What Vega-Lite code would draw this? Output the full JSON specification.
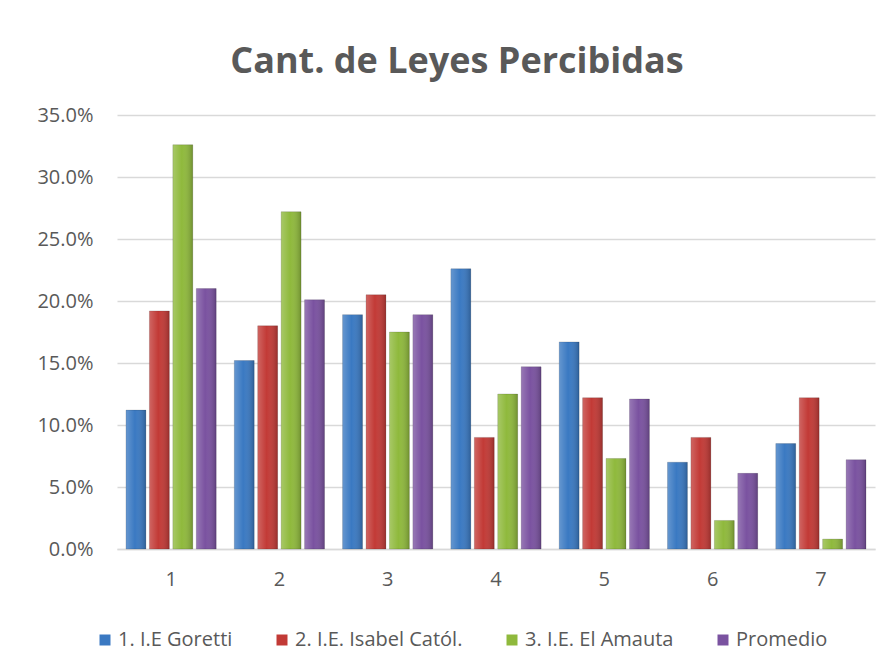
{
  "$schema": "https://vega.github.io/schema/vega-lite/v6.json",
  "width": 758,
  "height": 434,
  "autosize": {"type": "none"},
  "padding": {"left": 117, "top": 115, "right": 15, "bottom": 117},
  "background": "white",
  "title": {
    "text": "Cant. de Leyes Percibidas",
    "font": "Open Sans",
    "fontSize": 36,
    "fontWeight": "bold",
    "color": "#595959",
    "anchor": "middle",
    "dx": -39,
    "offset": 24
  },
  "config": {
    "view": {"stroke": null},
    "font": "Open Sans"
  },
  "data": {
    "values": [
      {"grupo": "1", "serie": "1. I.E Goretti", "valor": 0.112},
      {"grupo": "1", "serie": "2. I.E. Isabel Catól.", "valor": 0.192},
      {"grupo": "1", "serie": "3. I.E. El Amauta", "valor": 0.326},
      {"grupo": "1", "serie": "Promedio", "valor": 0.210},
      {"grupo": "2", "serie": "1. I.E Goretti", "valor": 0.152},
      {"grupo": "2", "serie": "2. I.E. Isabel Catól.", "valor": 0.180},
      {"grupo": "2", "serie": "3. I.E. El Amauta", "valor": 0.272},
      {"grupo": "2", "serie": "Promedio", "valor": 0.201},
      {"grupo": "3", "serie": "1. I.E Goretti", "valor": 0.189},
      {"grupo": "3", "serie": "2. I.E. Isabel Catól.", "valor": 0.205},
      {"grupo": "3", "serie": "3. I.E. El Amauta", "valor": 0.175},
      {"grupo": "3", "serie": "Promedio", "valor": 0.189},
      {"grupo": "4", "serie": "1. I.E Goretti", "valor": 0.226},
      {"grupo": "4", "serie": "2. I.E. Isabel Catól.", "valor": 0.090},
      {"grupo": "4", "serie": "3. I.E. El Amauta", "valor": 0.125},
      {"grupo": "4", "serie": "Promedio", "valor": 0.147},
      {"grupo": "5", "serie": "1. I.E Goretti", "valor": 0.167},
      {"grupo": "5", "serie": "2. I.E. Isabel Catól.", "valor": 0.122},
      {"grupo": "5", "serie": "3. I.E. El Amauta", "valor": 0.073},
      {"grupo": "5", "serie": "Promedio", "valor": 0.121},
      {"grupo": "6", "serie": "1. I.E Goretti", "valor": 0.070},
      {"grupo": "6", "serie": "2. I.E. Isabel Catól.", "valor": 0.090},
      {"grupo": "6", "serie": "3. I.E. El Amauta", "valor": 0.023},
      {"grupo": "6", "serie": "Promedio", "valor": 0.061},
      {"grupo": "7", "serie": "1. I.E Goretti", "valor": 0.085},
      {"grupo": "7", "serie": "2. I.E. Isabel Catól.", "valor": 0.122},
      {"grupo": "7", "serie": "3. I.E. El Amauta", "valor": 0.008},
      {"grupo": "7", "serie": "Promedio", "valor": 0.072}
    ]
  },
  "encoding": {
    "x": {
      "field": "grupo",
      "type": "ordinal",
      "scale": {"paddingInner": 0.167, "paddingOuter": 0.083},
      "axis": {
        "title": null,
        "labelAngle": 0,
        "ticks": false,
        "domainColor": "#D9D9D9",
        "domainWidth": 1.5,
        "labelFont": "Open Sans",
        "labelFontSize": 20,
        "labelColor": "#595959",
        "labelPadding": 20
      }
    },
    "xOffset": {
      "field": "serie",
      "type": "nominal",
      "sort": ["1. I.E Goretti", "2. I.E. Isabel Catól.", "3. I.E. El Amauta", "Promedio"],
      "scale": {"paddingInner": 0.15, "paddingOuter": 0}
    },
    "y": {
      "field": "valor",
      "type": "quantitative",
      "scale": {"domain": [0, 0.35], "nice": false},
      "axis": {
        "title": null,
        "format": ".1%",
        "values": [0, 0.05, 0.1, 0.15, 0.2, 0.25, 0.3, 0.35],
        "domain": false,
        "ticks": false,
        "gridColor": "#D9D9D9",
        "gridWidth": 1.5,
        "labelFont": "Open Sans",
        "labelFontSize": 20,
        "labelColor": "#595959",
        "labelPadding": 24
      }
    }
  },
  "layer": [
    {
      "mark": {"type": "bar", "stroke": "#00000030", "strokeWidth": 0.8},
      "encoding": {
        "color": {
          "field": "serie",
          "type": "nominal",
          "scale": {
            "domain": ["1. I.E Goretti", "2. I.E. Isabel Catól.", "3. I.E. El Amauta", "Promedio"],
            "range": ["#3A79C2", "#C23A36", "#8FB93C", "#7A52A0"]
          },
          "legend": {
            "orient": "none",
            "direction": "horizontal",
            "legendX": -22,
            "legendY": 515,
            "title": null,
            "symbolType": "square",
            "symbolSize": 121,
            "symbolStrokeWidth": 0,
            "labelFont": "Open Sans",
            "labelFontSize": 20,
            "labelColor": "#595959",
            "labelOffset": 3,
            "labelLimit": 0,
            "columnPadding": 39
          }
        }
      }
    },
    {
      "mark": {
        "type": "bar",
        "color": {
          "gradient": "linear",
          "x1": 0, "x2": 1, "y1": 0, "y2": 0,
          "stops": [
            {"offset": 0, "color": "rgba(255,255,255,0.22)"},
            {"offset": 0.45, "color": "rgba(255,255,255,0)"},
            {"offset": 1, "color": "rgba(0,0,0,0.22)"}
          ]
        }
      }
    }
  ]
}
